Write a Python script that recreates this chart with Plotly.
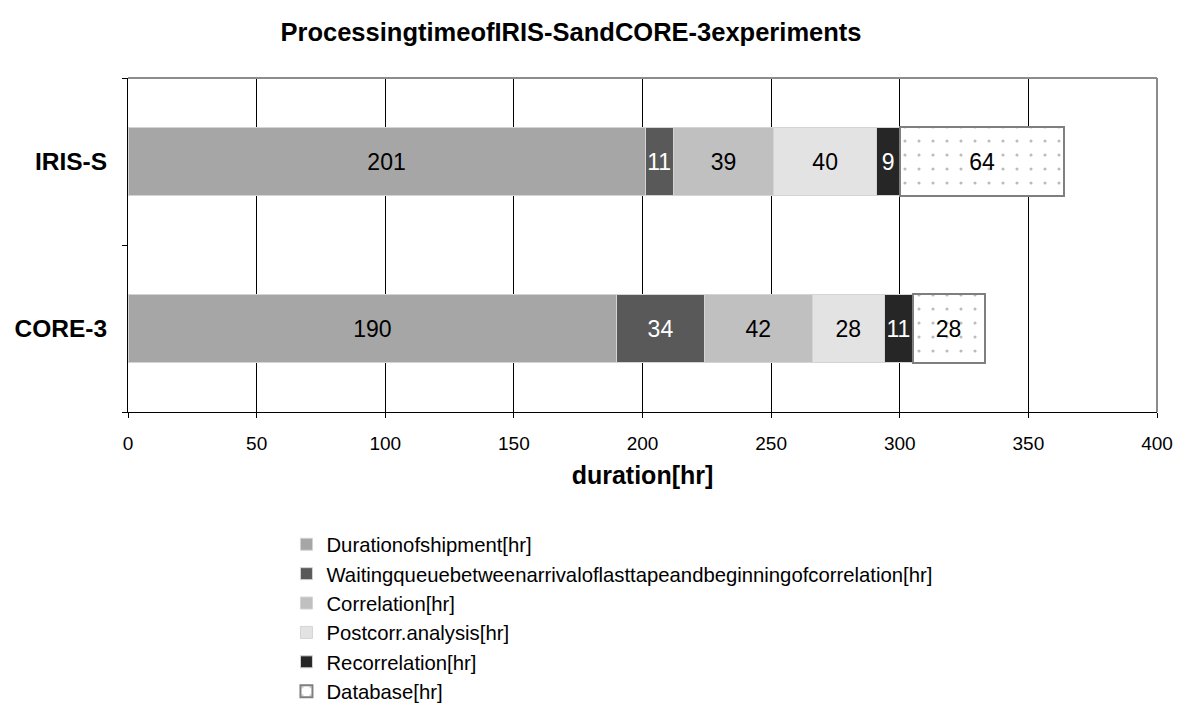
import plotly.graph_objects as go

experiments = ["IRIS-S", "CORE-3"]
series_names = [
    "Durationofshipment[hr]",
    "Waitingqueuebetweenarrivaloflasttapeandbeginningofcorrelation[hr]",
    "Correlation[hr]",
    "Postcorr.analysis[hr]",
    "Recorrelation[hr]",
    "Database[hr]",
]
shipment = [201, 190]
waiting = [11, 34]
correlation = [39, 42]
postcorr = [40, 28]
recorrelation = [9, 11]
database = [64, 28]
x_ticks = [0, 50, 100, 150, 200, 250, 300, 350, 400]

values = [shipment, waiting, correlation, postcorr, recorrelation, database]
fills = ["#a6a6a6", "#595959", "#c0c0c0", "#e3e3e3", "#262626", "#ffffff"]
text_colors = ["black", "white", "black", "black", "white", "black"]
FONT = "Liberation Sans, Arial, sans-serif"

fig = go.Figure()
for i, (name, vals) in enumerate(zip(series_names, values)):
    marker = dict(color=fills[i], line=dict(color="#d4d4d4", width=1))
    if name.startswith("Database"):
        marker = dict(
            color="#ffffff",
            line=dict(color="#7f7f7f", width=2),
            pattern=dict(shape=".", fgcolor="#7a7a7a", bgcolor="#ffffff",
                         size=14, solidity=0.04),
        )
    fig.add_trace(go.Bar(
        name=name, y=experiments, x=vals, orientation="h",
        marker=marker, width=0.41,
        text=vals, texttemplate="%{x}", textposition="inside",
        insidetextanchor="middle", constraintext="none",
        textfont=dict(family=FONT, size=23, color=text_colors[i]),
        legendgroup=name,
    ))

fig.update_layout(
    width=1186, height=715,
    barmode="stack",
    plot_bgcolor="white", paper_bgcolor="white",
    margin=dict(l=128, r=29, t=78, b=303, autoexpand=False),
    font=dict(family=FONT, color="black"),
    title=dict(text="<b>ProcessingtimeofIRIS-SandCORE-3experiments</b>",
               x=(571 - 128) / 1029, xref="paper", xanchor="center",
               y=1 - 32 / 715, yanchor="middle",
               font=dict(family=FONT, size=25.5, color="black")),
    showlegend=True,
    legend=dict(
        x=0.154, xanchor="left", y=-0.337, yanchor="top",
        orientation="v", traceorder="grouped", tracegroupgap=0,
        font=dict(family=FONT, size=20.3, color="black"),
        itemwidth=30, bgcolor="rgba(0,0,0,0)",
    ),
    xaxis=dict(
        range=[0, 400], tickvals=x_ticks, ticktext=[str(v) for v in x_ticks],
        showgrid=True, gridcolor="black", gridwidth=1,
        showline=True, linecolor="black", linewidth=1,
        ticks="outside", ticklen=5, tickcolor="black",
        tickfont=dict(family=FONT, size=19, color="black"),
        ticklabelstandoff=9,
        title=dict(text="<b>duration[hr]</b>", standoff=13,
                   font=dict(family=FONT, size=25, color="black")),
        zeroline=False,
    ),
    yaxis=dict(
        autorange="reversed",
        showline=True, linecolor="black", linewidth=1,
        ticks="outside", ticklen=5, tickcolor="black", tickson="boundaries",
        showgrid=False,
        tickfont=dict(family=FONT, size=24.5, color="black"),
        ticklabelstandoff=15,
    ),
)
fig.update_yaxes(tickvals=experiments, ticktext=["<b>IRIS-S</b>", "<b>CORE-3</b>"])

# gray top/right frame of plot area
fig.add_shape(type="line", xref="x domain", yref="y domain", x0=0, x1=1, y0=1, y1=1,
              line=dict(color="#8c8c8c", width=2), layer="above")
fig.add_shape(type="line", xref="x domain", yref="y domain", x0=1, x1=1, y0=0, y1=1,
              line=dict(color="#8c8c8c", width=2), layer="above")

fig.write_html("out.html")
